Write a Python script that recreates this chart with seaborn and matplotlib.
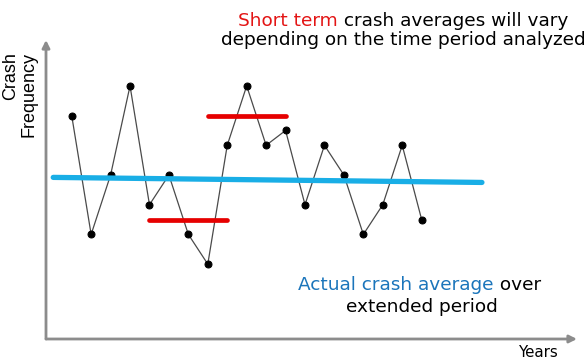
import matplotlib
matplotlib.use("Agg")
import matplotlib.pyplot as plt
import seaborn as sns
import pandas as pd

# ---- data ----
years = list(range(1, 20))
crash_freq = [6, 2, 4, 7, 3, 4, 2, 1, 5, 7, 5, 5.5, 3, 5, 4, 2, 3, 5, 2.5]
avg_x = [0.05, 22.1]
avg_y = [3.92, 3.75]
short1_x = [5, 9]
short1_y = [2.5, 2.5]
short2_x = [8, 12]
short2_y = [6, 6]

sns.set_theme(style="white")
plt.rcParams["font.family"] = ["Liberation Sans", "DejaVu Sans"]

W, H = 588, 360
fig = plt.figure(figsize=(W / 100, H / 100), dpi=100)
fig.patch.set_facecolor("white")

def fx(px):
    return px / W

def fy(py):
    return 1 - py / H

left, right, top, bottom = 46, 577, 40, 339
ax = fig.add_axes([fx(left), fy(bottom), fx(right) - fx(left), fy(top) - fy(bottom)])
ax.set_xlim(-0.322, 26.99)
ax.set_ylim(-1.52, 8.545)
for s in ax.spines.values():
    s.set_visible(False)
ax.set_xticks([])
ax.set_yticks([])
ax.set_facecolor("none")

gray = "#8c8c8c"
# axis arrows
ax.annotate("", xy=(0, 1), xytext=(0, 0), xycoords="axes fraction",
            arrowprops=dict(arrowstyle="-|>", color=gray, lw=2.0, mutation_scale=11,
                            shrinkA=0, shrinkB=0))
ax.annotate("", xy=(1, 0), xytext=(0, 0), xycoords="axes fraction",
            arrowprops=dict(arrowstyle="-|>", color=gray, lw=2.0, mutation_scale=11,
                            shrinkA=0, shrinkB=0))

df = pd.DataFrame({"year": years, "freq": crash_freq})
sns.lineplot(data=df, x="year", y="freq", ax=ax, color="#4a4a4a", lw=0.9,
             marker="o", markersize=5, markerfacecolor="black",
             markeredgecolor="black", zorder=2)
sns.lineplot(x=avg_x, y=avg_y, ax=ax, color="#19aee6", lw=3.8, zorder=3)
sns.lineplot(x=short1_x, y=short1_y, ax=ax, color="#e60000", lw=3.4, zorder=3)
sns.lineplot(x=short2_x, y=short2_y, ax=ax, color="#e60000", lw=3.4, zorder=3)
ax.set_xlabel("")
ax.set_ylabel("")

fs = 13.3
red = "#e31414"
tblue = "#1b75bb"
wide = ["DejaVu Sans"]

# top annotation
t1 = fig.text(fx(238), fy(26), "Short term", color=red, fontsize=fs, va="baseline",
              ha="left", family=wide)
ax.annotate(" crash averages will vary", xy=(1, 0), xycoords=t1, va="bottom", ha="left",
            fontsize=fs, color="black", family=wide)
fig.text(fx(403), fy(45), "depending on the time period analyzed", color="black",
         fontsize=fs, va="baseline", ha="center", family=wide)

# bottom annotation
t2 = fig.text(fx(298), fy(290), "Actual crash average", color=tblue, fontsize=fs,
              va="baseline", ha="left", family=wide)
ax.annotate(" over", xy=(1, 0), xycoords=t2, va="bottom", ha="left", fontsize=fs,
            color="black", family=wide)
fig.text(fx(422), fy(311.5), "extended period", color="black", fontsize=fs,
         va="baseline", ha="center", family=wide)

# axis labels
fig.text(fx(20), fy(52), "Crash\nFrequency", rotation=90, ha="center", va="top",
         multialignment="right", fontsize=13, color="black", linespacing=1.15)
fig.text(fx(539), fy(357), "Years", ha="center", va="baseline", fontsize=10.8,
         color="black", family=wide)

fig.savefig("out.png", dpi=100)
